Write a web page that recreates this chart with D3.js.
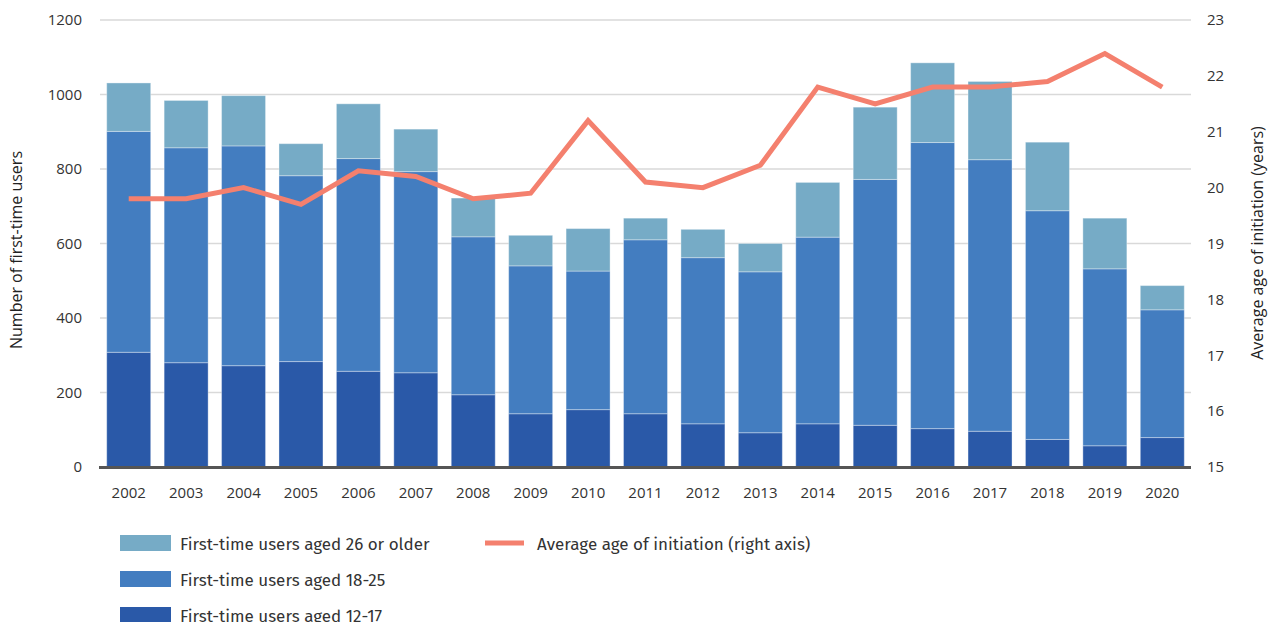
<!DOCTYPE html>
<html>
<head>
<meta charset="utf-8">
<script src="https://cdn.jsdelivr.net/npm/d3@7"></script>
<style>
  html, body { margin: 0; padding: 0; background: #fff; }
  svg { display: block; }
  .tick text { fill: #333; }
</style>
</head>
<body>
<svg id="chart" width="1269" height="622"></svg>
<script>
// Years on the x axis
const years = ["2002","2003","2004","2005","2006","2007","2008","2009","2010","2011",
               "2012","2013","2014","2015","2016","2017","2018","2019","2020"];

// First-time users by age group (stacked bars, left axis)
const aged12to17 = [308, 280, 272, 283, 257, 253, 194, 143, 154, 143, 116, 92, 116, 112, 103, 96, 74, 57, 79];
const aged18to25 = [593, 577, 590, 499, 571, 540, 424, 397, 372, 467, 446, 432, 501, 660, 768, 729, 614, 475, 343];
const aged26plus = [130, 127, 135, 86, 147, 114, 104, 82, 114, 58, 76, 76, 147, 194, 214, 210, 184, 136, 65];

// Average age of initiation (line, right axis)
const avgAge = [19.8, 19.8, 20.0, 19.7, 20.3, 20.2, 19.8, 19.9, 21.2, 20.1,
                20.0, 20.4, 21.8, 21.5, 21.8, 21.8, 21.9, 22.4, 21.8];

// Axis ticks
const leftTicks = [0, 200, 400, 600, 800, 1000, 1200];
const rightTicks = [15, 16, 17, 18, 19, 20, 21, 22, 23];

const seriesKeys = ["a12", "a18", "a26"];
const seriesLabels = {
  a26: "First-time users aged 26 or older",
  a18: "First-time users aged 18-25",
  a12: "First-time users aged 12-17"
};
const colors = { a12: "#2a59a8", a18: "#437dc0", a26: "#76abc6" };
const lineColor = "#f4806e";

const rows = years.map((y, i) => ({
  year: y, a12: aged12to17[i], a18: aged18to25[i], a26: aged26plus[i], age: avgAge[i]
}));

const svg = d3.select("#chart");
const plot = { left: 100, right: 1191, top: 20, bottom: 467 };

const x = d3.scaleBand()
  .domain(years)
  .range([plot.left, plot.right])
  .paddingInner(0.234)
  .paddingOuter(0.117);

const yL = d3.scaleLinear().domain([0, 1200]).range([plot.bottom, plot.top]);
const yR = d3.scaleLinear().domain([15, 23]).range([plot.bottom, plot.top]);

const tickFont = "'Open Sans', 'Noto Sans', sans-serif";

// Horizontal gridlines
svg.append("g")
  .selectAll("line")
  .data(leftTicks.filter(t => t > 0))
  .join("line")
  .attr("x1", plot.left)
  .attr("x2", plot.right)
  .attr("y1", d => yL(d))
  .attr("y2", d => yL(d))
  .attr("stroke", "#d9d9d9")
  .attr("stroke-width", 1.5);

// Stacked bars
const stack = d3.stack().keys(seriesKeys);
const stacked = stack(rows);

svg.append("g")
  .selectAll("g")
  .data(stacked)
  .join("g")
  .attr("fill", d => colors[d.key])
  .selectAll("rect")
  .data(d => d)
  .join("rect")
  .attr("x", d => x(d.data.year))
  .attr("width", x.bandwidth())
  .attr("y", d => yL(d[1]))
  .attr("height", d => yL(d[0]) - yL(d[1]))
  .attr("stroke", "rgba(255,255,255,0.35)")
  .attr("stroke-width", 1);

// Baseline
svg.append("line")
  .attr("x1", plot.left - 1)
  .attr("x2", plot.right)
  .attr("y1", yL(0) + 0.5)
  .attr("y2", yL(0) + 0.5)
  .attr("stroke", "#555")
  .attr("stroke-width", 3);

// Average age line
const line = d3.line()
  .x(d => x(d.year) + x.bandwidth() / 2)
  .y(d => yR(d.age));

svg.append("path")
  .datum(rows)
  .attr("fill", "none")
  .attr("stroke", lineColor)
  .attr("stroke-width", 5)
  .attr("stroke-linejoin", "miter")
  .attr("d", line);

// Left axis
const leftAxis = svg.append("g")
  .attr("transform", `translate(${plot.left},0)`)
  .call(d3.axisLeft(yL).tickValues(leftTicks).tickFormat(d3.format("d")).tickSize(0).tickPadding(18));
leftAxis.select(".domain").remove();
leftAxis.selectAll("text").style("font-family", tickFont).style("font-size", "15px");

// Right axis
const rightAxis = svg.append("g")
  .attr("transform", `translate(${plot.right},0)`)
  .call(d3.axisRight(yR).tickValues(rightTicks).tickSize(0).tickPadding(16));
rightAxis.select(".domain").remove();
rightAxis.selectAll("text").style("font-family", tickFont).style("font-size", "15px");

// Bottom axis
const bottomAxis = svg.append("g")
  .attr("transform", `translate(0,${plot.bottom})`)
  .call(d3.axisBottom(x).tickSize(0).tickPadding(20));
bottomAxis.select(".domain").remove();
bottomAxis.selectAll("text").style("font-family", tickFont).style("font-size", "15px");

// Axis titles
svg.append("text")
  .attr("transform", `translate(22,250) rotate(-90)`)
  .attr("text-anchor", "middle")
  .style("font-family", tickFont)
  .style("font-size", "16px")
  .attr("fill", "#222")
  .text("Number of first-time users");

svg.append("text")
  .attr("transform", `translate(1263,243) rotate(-90)`)
  .attr("text-anchor", "middle")
  .style("font-family", tickFont)
  .style("font-size", "16px")
  .attr("fill", "#222")
  .text("Average age of initiation (years)");

// Legend
const legendFont = "'Fira Sans', 'Noto Sans', sans-serif";
const legend = svg.append("g");
const legendRows = ["a26", "a18", "a12"];
legendRows.forEach((k, i) => {
  const yTop = 535 + i * 36;
  legend.append("rect")
    .attr("x", 120).attr("y", yTop)
    .attr("width", 51).attr("height", 16)
    .attr("fill", colors[k]);
  legend.append("text")
    .attr("x", 180).attr("y", yTop + 15)
    .style("font-family", legendFont)
    .style("font-size", "17px")
    .attr("fill", "#333")
    .text(seriesLabels[k]);
});
legend.append("rect")
  .attr("x", 485).attr("y", 540.5)
  .attr("width", 39).attr("height", 5)
  .attr("fill", lineColor);
legend.append("text")
  .attr("x", 537).attr("y", 550)
  .style("font-family", legendFont)
  .style("font-size", "17px")
  .attr("fill", "#333")
  .text("Average age of initiation (right axis)");
</script>
</body>
</html>
